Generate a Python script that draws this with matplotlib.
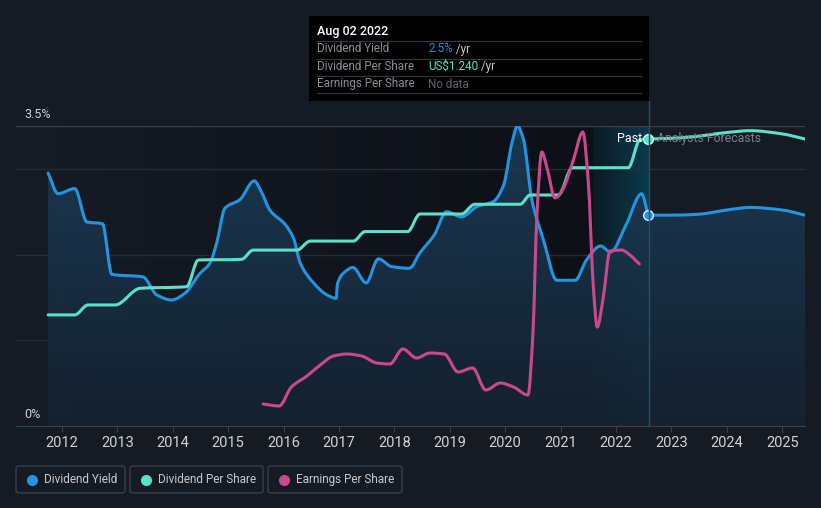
import matplotlib
matplotlib.use("Agg")
import matplotlib.pyplot as plt
import numpy as np
from matplotlib.patches import Rectangle, FancyBboxPatch, PathPatch
from matplotlib.path import Path
from matplotlib.colors import LinearSegmentedColormap

plt.rcParams['font.family'] = ['Roboto', 'DejaVu Sans']

# dividend yield (%)
yield_x = [2011.75, 2011.93, 2012.23, 2012.45, 2012.73, 2012.90, 2013.46, 2013.71, 2013.98,
           2014.22, 2014.49, 2014.67, 2014.79, 2014.94, 2015.21, 2015.47, 2015.60, 2015.75,
           2016.03, 2016.18, 2016.30, 2016.54, 2016.78, 2016.95, 2016.97, 2017.11, 2017.25,
           2017.49, 2017.71, 2017.95, 2018.27, 2018.46, 2018.72, 2018.94, 2019.21, 2019.49,
           2019.79, 2019.97, 2020.12, 2020.22, 2020.33, 2020.48, 2020.69, 2020.93, 2021.26,
           2021.47, 2021.72, 2021.90, 2022.19, 2022.46, 2022.58]
yield_y = [2.95, 2.71, 2.77, 2.38, 2.36, 1.77, 1.74, 1.53, 1.47,
           1.55, 1.78, 1.90, 2.13, 2.54, 2.64, 2.86, 2.73, 2.52,
           2.35, 2.19, 1.90, 1.67, 1.53, 1.49, 1.65, 1.80, 1.85,
           1.67, 1.95, 1.86, 1.84, 2.02, 2.23, 2.50, 2.44, 2.56,
           2.62, 2.81, 3.30, 3.50, 3.34, 2.64, 2.17, 1.70, 1.70,
           1.94, 2.10, 2.03, 2.36, 2.71, 2.46]
yield_fc_x = [2022.58, 2023.0, 2023.48, 2024.0, 2024.42, 2025.0, 2025.41]
yield_fc_y = [2.46, 2.46, 2.47, 2.52, 2.55, 2.52, 2.46]

# dividend per share (US$)
dps_x = [2011.75, 2012.23, 2012.47, 2012.96, 2013.41, 2014.25, 2014.46, 2015.24, 2015.45,
         2016.24, 2016.48, 2017.26, 2017.47, 2018.24, 2018.46, 2019.21, 2019.45, 2020.27,
         2020.45, 2020.96, 2021.21, 2022.22, 2022.43, 2022.58]
dps_y = [0.480, 0.480, 0.523, 0.523, 0.595, 0.602, 0.717, 0.720, 0.760,
         0.760, 0.799, 0.799, 0.840, 0.840, 0.916, 0.916, 0.958, 0.958,
         0.998, 0.998, 1.116, 1.116, 1.236, 1.240]
dps_fc_x = [2022.58, 2023.0, 2023.4, 2024.0, 2024.42, 2025.0, 2025.41]
dps_fc_y = [1.240, 1.243, 1.250, 1.268, 1.276, 1.262, 1.240]

# earnings per share (relative scale)
eps_x = [2015.63, 2015.92, 2016.14, 2016.42, 2016.66, 2016.90, 2017.14, 2017.41, 2017.68,
         2017.92, 2018.15, 2018.40, 2018.64, 2018.90, 2019.15, 2019.41, 2019.65, 2019.91,
         2020.15, 2020.41, 2020.50, 2020.57, 2020.66, 2020.75, 2020.90, 2021.05, 2021.23,
         2021.40, 2021.50, 2021.59, 2021.66, 2021.77, 2021.89, 2022.10, 2022.25, 2022.42]
eps_y = [0.22, 0.20, 0.39, 0.50, 0.61, 0.70, 0.72, 0.70, 0.63,
         0.62, 0.77, 0.68, 0.73, 0.72, 0.54, 0.58, 0.36, 0.43,
         0.39, 0.31, 0.93, 2.09, 2.74, 2.59, 2.28, 2.38, 2.66,
         2.94, 2.43, 1.39, 0.99, 1.29, 1.75, 1.76, 1.71, 1.62]

years = list(range(2012, 2026))
now_x = 2022.58
band_x = 2021.58

BG = '#151a23'
BLUE = '#2394df'
TEAL = '#5ce0c8'
PINK = '#c94a8c'


# smooth curve through the points (monotone cubic drawn as bezier segments)
def smooth_path(xs, ys, base=None):
    x = np.asarray(xs, float)
    y = np.asarray(ys, float)
    h = np.diff(x)
    d = np.diff(y) / h
    m = np.zeros_like(x)
    m[0], m[-1] = d[0], d[-1]
    for i in range(1, len(x) - 1):
        if d[i - 1] * d[i] <= 0:
            m[i] = 0
        else:
            w1 = 2 * h[i] + h[i - 1]
            w2 = h[i] + 2 * h[i - 1]
            m[i] = (w1 + w2) / (w1 / d[i - 1] + w2 / d[i])
    verts = [(x[0], y[0])]
    codes = [Path.MOVETO]
    for i in range(len(x) - 1):
        verts += [(x[i] + h[i] / 3, y[i] + m[i] * h[i] / 3),
                  (x[i + 1] - h[i] / 3, y[i + 1] - m[i + 1] * h[i] / 3),
                  (x[i + 1], y[i + 1])]
        codes += [Path.CURVE4] * 3
    if base is not None:
        verts += [(x[-1], base), (x[0], base), (x[0], y[0])]
        codes += [Path.LINETO, Path.LINETO, Path.CLOSEPOLY]
    return Path(verts, codes)


def draw_line(a, xs, ys, color):
    a.add_patch(PathPatch(smooth_path(xs, ys), fill=False, ec=color, lw=2.2,
                          capstyle='round', joinstyle='round', zorder=5))


fig = plt.figure(figsize=(8.21, 5.08), dpi=100, facecolor=BG)
W, H = 821, 508
ax = fig.add_axes([16 / W, 82 / H, 789 / W, 300 / H])
ax.set_facecolor(BG)
xmin, xmax = 2011.17, 2025.41

# darker past background, getting darker to the right
past = np.linspace(0, 1, 256).reshape(1, -1)
past_cmap = LinearSegmentedColormap.from_list('p', ['#161b24', '#0d1017'])
ax.imshow(past, cmap=past_cmap, aspect='auto', extent=[xmin, band_x, 0, 3.5], zorder=0)
band_cmap = LinearSegmentedColormap.from_list('b', ['#0b1a22', '#0b3a4e'])
ax.imshow(past, cmap=band_cmap, aspect='auto', extent=[band_x, now_x, 0, 3.5], zorder=0)

for g in [1, 2, 3]:
    ax.axhline(g, color='#272d37', lw=1, zorder=1)
ax.axhline(3.5, color='#3a404a', lw=1, zorder=1)

# gradient fill under yield
all_x = yield_x + yield_fc_x[1:]
all_y = yield_y + yield_fc_y[1:]
clip = PathPatch(smooth_path(all_x, all_y, base=0), fc='none', ec='none',
                 transform=ax.transData)
ax.add_patch(clip)
grad = np.linspace(1, 0, 256).reshape(-1, 1)
fill_cmap = LinearSegmentedColormap.from_list('f', ['#152231', '#1b3d58'])
im = ax.imshow(grad, cmap=fill_cmap, aspect='auto', extent=[xmin, xmax, 0, 3.5],
               alpha=0.9, zorder=2)
im.set_clip_path(clip)
ax.set_xlim(xmin, xmax)
ax.set_ylim(0, 3.5)

draw_line(ax, yield_x, yield_y, BLUE)
draw_line(ax, yield_fc_x, yield_fc_y, BLUE)

ax2 = ax.twinx()
ax2.set_ylim(0, 1.24 * 300 / 287)
draw_line(ax2, dps_x, dps_y, TEAL)
draw_line(ax2, dps_fc_x, dps_fc_y, TEAL)
ax2.plot([now_x], [1.24], 'o', ms=7, color=TEAL, mec='#d8f5ef', mew=1, zorder=7)

ax3 = ax.twinx()
ax3.set_ylim(0, 3.0)
draw_line(ax3, eps_x, eps_y, PINK)

ax4 = ax.twinx()
ax4.set_ylim(0, 3.5)
ax4.plot([now_x], [2.46], 'o', ms=7, color=BLUE, mec='#d6ecfb', mew=1, zorder=7)

for a in (ax, ax2, ax3, ax4):
    a.set_xlim(xmin, xmax)
    for s in a.spines.values():
        s.set_visible(False)
    a.set_yticks([])
for a in (ax2, ax3, ax4):
    a.set_xticks([])
ax.spines['bottom'].set_visible(True)
ax.spines['bottom'].set_color('#3a404a')
ax.set_xticks(years)
ax.set_xticklabels([str(y) for y in years], family=['Liberation Sans Narrow', 'Roboto'])
ax.tick_params(axis='x', colors='#3a404a', labelcolor='#d0d4da', labelsize=10.5,
               length=4, pad=3)

ax4.text(2022.47, 3.35, 'Past', color='white', fontsize=9, ha='right', va='center', zorder=8)
ax4.text(2022.74, 3.35, 'Analysts Forecasts', color='#7d838c', fontsize=8.8,
         ha='left', va='center', zorder=8)

# y labels
fig.text(24 / W, 1 - 114 / H, '3.5%', color='#d0d4da', fontsize=9, va='center')
fig.text(24 / W, 1 - 414 / H, '0%', color='#d0d4da', fontsize=9, va='center')

# vertical marker line
fig.add_artist(plt.Line2D([649 / W, 649 / W], [1 - 101 / H, 1 - 426 / H],
                          color='#1d5468', lw=1))

# tooltip
fig.add_artist(Rectangle((309 / W, 1 - 101 / H), 340 / W, 85 / H, color='black', lw=0))
fig.text(317 / W, 1 - 31 / H, 'Aug 02 2022', color='white', fontsize=9, va='center',
         fontweight='medium')
rows = [('Dividend Yield', '2.5%', BLUE, ' /yr'),
        ('Dividend Per Share', 'US$1.240', TEAL, ' /yr'),
        ('Earnings Per Share', 'No data', '#5d6269', '')]
for i, (lab, val, col, suf) in enumerate(rows):
    yy = 1 - (49 + i * 17.5) / H
    fig.text(317 / W, yy, lab, color='#8a8f96', fontsize=8.4, va='center')
    t = fig.text(428 / W, yy, val, color=col, fontsize=8.4, va='center')
    if suf:
        fig.canvas.draw()
        bb = t.get_window_extent()
        fig.text(bb.x1 / W, yy, suf, color='#c8ccd1', fontsize=8.4, va='center')
for sy in [41, 58.5, 76, 93]:
    fig.add_artist(plt.Line2D([317 / W, 641 / W], [1 - sy / H, 1 - sy / H],
                              color='#33383f', lw=0.8))

# legend boxes
legend = [('Dividend Yield', BLUE, 16, 125), ('Dividend Per Share', TEAL, 130, 263),
          ('Earnings Per Share', PINK, 268, 402)]
for lab, col, x0, x1 in legend:
    fig.add_artist(FancyBboxPatch((x0 / W, 1 - 493 / H), (x1 - x0) / W, 27 / H,
                                  boxstyle='round,pad=0,rounding_size=0.004',
                                  fc='none', ec='#3a404a', lw=1))
    fig.add_artist(plt.Line2D([(x0 + 16) / W], [1 - 479.5 / H], marker='o', ms=7,
                              color=col, lw=0))
    fig.text((x0 + 28) / W, 1 - 479.5 / H, lab, color='#c8ccd1', fontsize=8.5,
             va='center')

fig.savefig('out.png', dpi=100, facecolor=BG)
